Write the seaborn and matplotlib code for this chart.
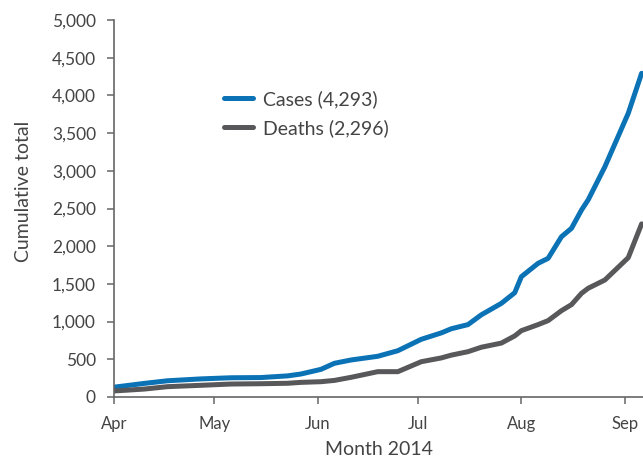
import numpy as np
import pandas as pd
import matplotlib
matplotlib.use("Agg")
import matplotlib.pyplot as plt
from matplotlib.ticker import FuncFormatter
import seaborn as sns

# cumulative totals, 2014
dates = ["2014-04-01", "2014-04-10", "2014-04-17", "2014-04-27", "2014-05-06",
         "2014-05-15", "2014-05-23", "2014-05-27", "2014-06-02", "2014-06-06",
         "2014-06-11", "2014-06-19", "2014-06-25", "2014-07-02", "2014-07-08",
         "2014-07-11", "2014-07-16", "2014-07-20", "2014-07-26", "2014-07-30",
         "2014-08-01", "2014-08-06", "2014-08-09", "2014-08-13", "2014-08-16",
         "2014-08-19", "2014-08-21", "2014-08-26", "2014-09-02", "2014-09-06"]
cases = [130, 180, 215, 240, 255, 258, 280, 305, 367, 447,
         491, 540, 614, 765, 850, 905, 960, 1090, 1242, 1383,
         1596, 1773, 1839, 2126, 2237, 2480, 2615, 3054, 3763, 4293]
deaths = [80, 105, 137, 155, 172, 176, 182, 194, 203, 220,
          261, 336, 336, 468, 518, 555, 601, 660, 715, 810,
          880, 960, 1013, 1145, 1225, 1375, 1442, 1552, 1848, 2296]
series_names = ["Cases (4,293)", "Deaths (2,296)"]
month_ticks = ["2014-04-01", "2014-05-01", "2014-06-01", "2014-07-01", "2014-08-01", "2014-09-01"]
month_labels = ["Apr", "May", "Jun", "Jul", "Aug", "Sep"]

df = pd.DataFrame({
    "date": pd.to_datetime(dates * 2),
    "total": cases + deaths,
    "series": [series_names[0]] * len(dates) + [series_names[1]] * len(dates),
})

sns.set_style("ticks")
plt.rcParams["font.family"] = ["Lato", "DejaVu Sans"]

fig = plt.figure(figsize=(6.43, 4.57), dpi=100)
ax = fig.add_axes([0.1773, 0.1313, 0.8227, 0.8249])

sns.lineplot(data=df, x="date", y="total", hue="series", ax=ax,
             palette=["#0a72b5", "#58585a"], linewidth=3.6, legend=True)

ax.set_ylim(0, 5000)
ax.set_xlim(pd.Timestamp("2014-04-01"), pd.Timestamp("2014-09-06 10:00"))
ax.set_yticks(np.arange(0, 5001, 500))
ax.yaxis.set_major_formatter(FuncFormatter(lambda v, p: f"{int(v):,}"))
ax.set_xticks(pd.to_datetime(month_ticks))
ax.set_xticklabels(month_labels)

grey = "#666666"
for s in ["top", "right"]:
    ax.spines[s].set_visible(False)
for s in ["left", "bottom"]:
    ax.spines[s].set_color(grey)
    ax.spines[s].set_linewidth(1.2)
ax.tick_params(axis="both", colors=grey, labelcolor="#444444", labelsize=12,
               length=5, width=1.1, direction="out")
ax.tick_params(axis="y", labelsize=12.5, pad=8)
ax.tick_params(axis="x", pad=9)

ax.set_xlabel("Month 2014", fontsize=14, color="#444444", labelpad=6)
ax.set_ylabel("Cumulative total", fontsize=14, color="#444444")
ax.yaxis.set_label_coords(-0.155, 0.546)

leg = ax.legend(loc="upper left", bbox_to_anchor=(0.175, 0.86), frameon=False,
                fontsize=14, handlelength=1.5, handletextpad=0.5,
                labelspacing=0.55, labelcolor="#444444")
for line in leg.get_lines():
    line.set_linewidth(3.6)

fig.savefig("out.png", dpi=100)
